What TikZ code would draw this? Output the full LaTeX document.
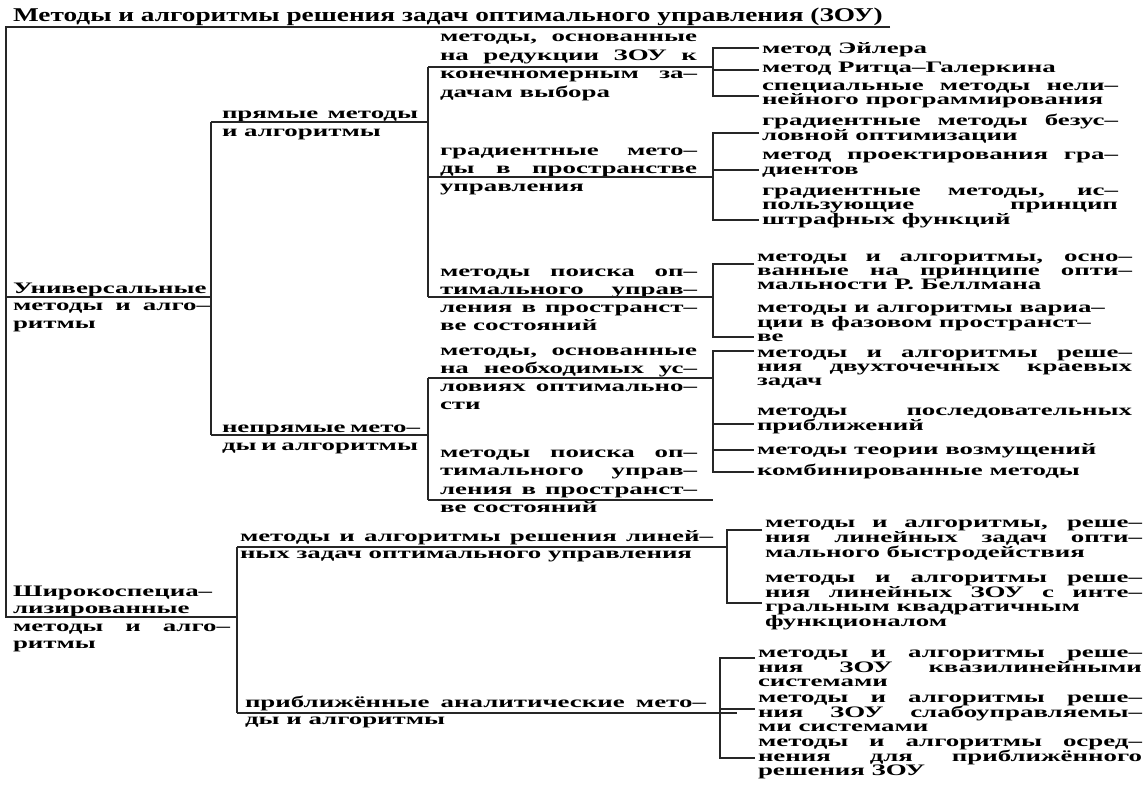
\documentclass[tikz,border=0pt]{standalone}
\usepackage{fontspec}
\newfontfamily\bodyfont{Liberation Serif}[FakeStretch=1.68]
\newfontfamily\titlefont{Liberation Serif}[FakeStretch=1.4]
\newcommand\jl[1]{\makebox[\linewidth][s]{#1}\par}
\newcommand\blk[3]{\parbox[t]{#1}{\fontsize{16}{#2}\selectfont #3}}
\tikzset{
  txt/.style={anchor=base west, inner sep=0pt, outer sep=0pt, font=\bodyfont\bfseries},
  ln/.style={line width=1.3pt, draw=black!85},
  brk/.style={ln, shorten <=3pt, shorten >=3pt},
  tick/.style={ln, shorten >=3pt},
}
\begin{document}
\begin{tikzpicture}[x=1pt,y=-1pt]
\fill[white] (0,0) rectangle (1148,789);
\useasboundingbox (0,0) rectangle (1148,789);

% ---------- title
\node[txt, font=\titlefont\bfseries\fontsize{19.5}{21}\selectfont] (title) at (13,22)
  {Методы и алгоритмы решения задач оптимального управления (ЗОУ)};

% ---------- level 1
\node[txt] (univ) at (13,293) {\blk{197pt}{17.5pt}{Универсальные\par\jl{методы и алго–}ритмы}};
\node[txt] (wide) at (13,596) {\blk{217pt}{17.5pt}{Широкоспециа–\par лизированные\par\jl{методы и алго–}ритмы}};

% ---------- level 2
\node[txt] (direct) at (222,119) {\blk{196pt}{18pt}{\jl{прямые методы}и алгоритмы}};
\node[txt] (indirect) at (222,432) {\blk{196pt}{18pt}{\jl{непрямые мето–}ды и алгоритмы}};
\node[txt] (linear) at (240,541) {\blk{473pt}{17pt}{\jl{методы и алгоритмы решения линей–}ных задач оптимального управления}};
\node[txt] (approx) at (245,707) {\blk{461pt}{17pt}{\jl{приближённые аналитические мето–}ды и алгоритмы}};

% ---------- level 3
\node[txt] (reduct) at (440,42) {\blk{257pt}{18.5pt}{\jl{методы, основанные}\jl{на редукции ЗОУ к}\jl{конечномерным за–}дачам выбора}};
\node[txt] (grad) at (440,155) {\blk{257pt}{18pt}{\jl{градиентные мето–}\jl{ды в пространстве}управления}};
\node[txt] (search1) at (440,276) {\blk{257pt}{18pt}{\jl{методы поиска оп–}\jl{тимального управ–}\jl{ления в пространст–}ве состояний}};
\node[txt] (necess) at (440,355) {\blk{257pt}{18pt}{\jl{методы, основанные}\jl{на необходимых ус–}\jl{ловиях оптимально–}сти}};
\node[txt] (search2) at (440,457) {\blk{257pt}{18.5pt}{\jl{методы поиска оп–}\jl{тимального управ–}\jl{ления в пространст–}ве состояний}};

% ---------- level 4
\node[txt] (euler) at (762,54) {\blk{356pt}{14pt}{метод Эйлера}};
\node[txt] (ritz) at (762,73) {\blk{356pt}{14pt}{метод Ритца–Галеркина}};
\node[txt] (nlp) at (762,91) {\blk{356pt}{14pt}{\jl{специальные методы нели–}нейного программирования}};

\node[txt] (uncon) at (762,125) {\blk{356pt}{14pt}{\jl{градиентные методы безус–}ловной оптимизации}};
\node[txt] (proj) at (762,160) {\blk{356pt}{14pt}{\jl{метод проектирования гра–}диентов}};
\node[txt] (penal) at (762,195) {\blk{356pt}{14pt}{\jl{градиентные методы, ис–}\jl{пользующие принцип}штрафных функций}};

\node[txt] (bellman) at (757,261) {\blk{375pt}{14pt}{\jl{методы и алгоритмы, осно–}\jl{ванные на принципе опти–}мальности Р. Беллмана}};
\node[txt] (variat) at (757,312) {\blk{375pt}{14pt}{методы и алгоритмы вариа–\par ции в фазовом пространст–\par ве}};

\node[txt] (twopt) at (757,357) {\blk{375pt}{14pt}{\jl{методы и алгоритмы реше–}\jl{ния двухточечных краевых}задач}};
\node[txt] (succ) at (757,415) {\blk{375pt}{14pt}{\jl{методы последовательных}приближений}};
\node[txt] (pert) at (757,454) {\blk{375pt}{14pt}{методы теории возмущений}};
\node[txt] (comb) at (757,475) {\blk{375pt}{14pt}{комбинированные методы}};

\node[txt] (speed) at (765,527) {\blk{377pt}{14pt}{\jl{методы и алгоритмы, реше–}\jl{ния линейных задач опти–}мального быстродействия}};
\node[txt] (quad) at (765,582) {\blk{377pt}{14pt}{\jl{методы и алгоритмы реше–}\jl{ния линейных ЗОУ с инте–}гральным квадратичным\par функционалом}};

\node[txt] (quasi) at (758,657) {\blk{384pt}{14pt}{\jl{методы и алгоритмы реше–}\jl{ния ЗОУ квазилинейными}системами}};
\node[txt] (weak) at (758,702) {\blk{384pt}{14pt}{\jl{методы и алгоритмы реше–}\jl{ния ЗОУ слабоуправляемы–}ми системами}};
\node[txt] (avg) at (758,746) {\blk{384pt}{14pt}{\jl{методы и алгоритмы осред–}\jl{нения для приближённого}решения ЗОУ}};

% ---------- junction coordinates
\coordinate (s0) at (6,27);
\coordinate (s1) at (890,27);
\coordinate (s2) at (6,297);
\coordinate (s3) at (6,617);
\coordinate (w2) at (237,617);
\coordinate (d0) at (211,297);
\coordinate (d1) at (211,122);
\coordinate (d2) at (211,435);
\coordinate (e0) at (428,122);
\coordinate (e1) at (428,67);
\coordinate (e2) at (428,177);
\coordinate (e3) at (428,297);
\coordinate (e4) at (428,378);
\coordinate (e5) at (428,435);
\coordinate (e6) at (428,500);
\coordinate (f1) at (713,67);
\coordinate (f2) at (713,177);
\coordinate (f3) at (713,297);
\coordinate (f4) at (713,378);
\coordinate (f6) at (713,500);
\coordinate (h1) at (237,547);
\coordinate (h2) at (237,713);
\coordinate (f7) at (727,547);
\coordinate (f8) at (737,713);
% bracket coordinates
\coordinate (k11) at (713,48);  \coordinate (k12) at (713,70);  \coordinate (k13) at (713,96);
\coordinate (k21) at (713,133); \coordinate (k22) at (713,170); \coordinate (k23) at (713,220);
\coordinate (k31) at (713,264); \coordinate (k32) at (713,337);
\coordinate (k41) at (713,351); \coordinate (k42) at (713,424); \coordinate (k43) at (713,450); \coordinate (k44) at (713,472);
\coordinate (k51) at (727,530); \coordinate (k52) at (727,603);
\coordinate (k61) at (720,658); \coordinate (k62) at (720,709); \coordinate (k63) at (720,758);

% ---------- connectors
\draw[ln] (s1) -- (s0) -- (s3) -- (w2);
\draw[ln] (s2) -- (d0);
\draw[ln] (d1) -- (d2);
\draw[ln] (d1) -- (e0);
\draw[ln] (d2) -- (e5);
\draw[ln] (e1) -- (e3);
\draw[ln] (e4) -- (e6);
\draw[ln] (e1) -- (f1);
\draw[ln] (e2) -- (f2);
\draw[ln] (e3) -- (f3);
\draw[ln] (e4) -- (f4);
\draw[ln] (e6) -- (f6);
\draw[ln] (h1) -- (h2);
\draw[ln] (h1) -- (f7);
\draw[ln] (h2) -- (f8);

\draw[brk] (k11 -| euler.west) -- (k11) -- (k13) -- (k13 -| nlp.west);
\draw[tick] (k12) -- (k12 -| ritz.west);
\draw[brk] (k21 -| uncon.west) -- (k21) -- (k23) -- (k23 -| penal.west);
\draw[tick] (k22) -- (k22 -| proj.west);
\draw[brk] (k31 -| bellman.west) -- (k31) -- (k32) -- (k32 -| variat.west);
\draw[brk] (k41 -| twopt.west) -- (k41) -- (k44) -- (k44 -| comb.west);
\draw[tick] (k42) -- (k42 -| succ.west);
\draw[tick] (k43) -- (k43 -| pert.west);
\draw[brk] (k51 -| speed.west) -- (k51) -- (k52) -- (k52 -| quad.west);
\draw[brk] (k61 -| quasi.west) -- (k61) -- (k63) -- (k63 -| avg.west);
\draw[tick] (k62) -- (k62 -| weak.west);
\end{tikzpicture}
\end{document}
